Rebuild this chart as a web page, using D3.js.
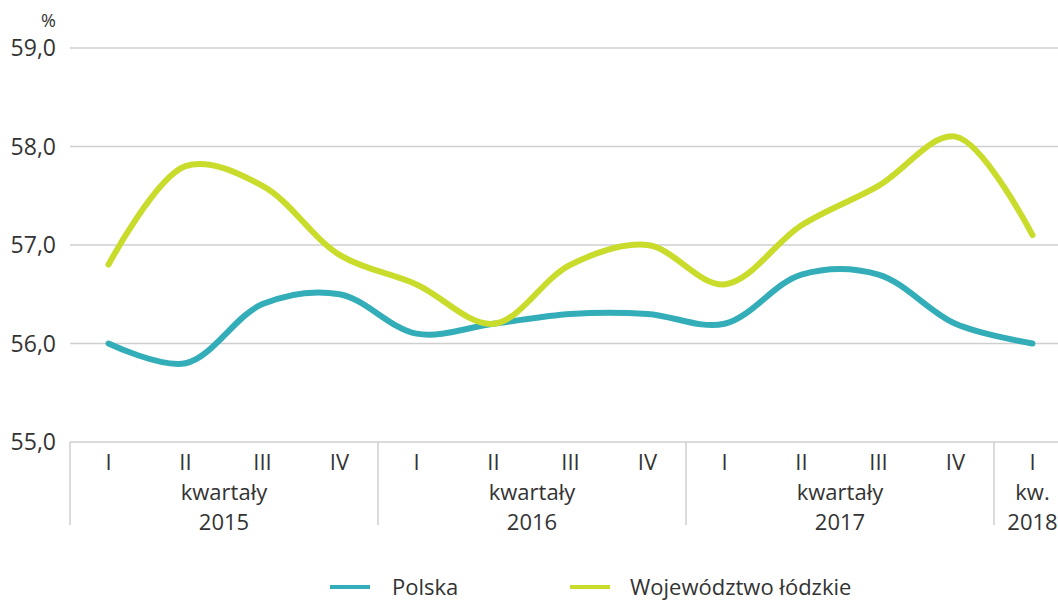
<!DOCTYPE html>
<html><head><meta charset="utf-8">
<script src="https://cdn.jsdelivr.net/npm/d3@7"></script>
<style>body{margin:0;background:#fff}svg{display:block;font-family:"Open Sans","Noto Sans",sans-serif}</style>
</head><body><svg id="c" width="1058" height="603"></svg>
<script>
const quarters = ["I","II","III","IV","I","II","III","IV","I","II","III","IV","I"];
const years = [{label:["kwartały","2015"],n:4},{label:["kwartały","2016"],n:4},{label:["kwartały","2017"],n:4},{label:["kw.","2018"],n:1}];
const polska = [56.0,55.8,56.4,56.5,56.1,56.2,56.3,56.3,56.2,56.7,56.7,56.2,56.0];
const lodzkie = [56.8,57.8,57.6,56.9,56.6,56.2,56.8,57.0,56.6,57.2,57.6,58.1,57.1];
const yTicks = [55,56,57,58,59];
const seriesNames = ["Polska","Województwo łódzkie"];
const colors = ["#33aeb8","#c9dc2c"];

(function(){
const svg = d3.select("#c");
const mL = 70, mR = 1058, mT = 48, mB = 442;
const x = d3.scaleBand().domain(d3.range(quarters.length)).range([mL,mL+77*quarters.length]).paddingInner(0).paddingOuter(0);
const y = d3.scaleLinear().domain([55,59]).range([mB,mT]);
const fmt = v => d3.format(".1f")(v).replace(".",",");

svg.append("g").selectAll("line").data(yTicks).join("line")
  .attr("x1",mL).attr("x2",mR).attr("y1",d=>y(d)).attr("y2",d=>y(d))
  .attr("stroke","#cfcfcf").attr("stroke-width",1.5);
svg.append("g").selectAll("text").data(yTicks).join("text")
  .attr("x",56).attr("y",d=>y(d)+8).attr("text-anchor","end")
  .attr("font-size",23).attr("fill","#333").text(fmt);
svg.append("text").attr("x",56).attr("y",27).attr("text-anchor","end").attr("font-size",18).attr("fill","#333").text("%");

const xa = svg.append("g");
xa.selectAll("text.q").data(quarters).join("text").attr("class","q")
  .attr("x",(d,i)=>x(i)+x.bandwidth()/2).attr("y",470).attr("text-anchor","middle")
  .attr("font-size",22).attr("fill","#333").text(d=>d);
let start = 0;
const seps = [0];
years.forEach(g=>{
  const x0 = x(start), x1 = x(start+g.n-1)+x.bandwidth();
  const cx = (x0+x1)/2;
  g.label.forEach((t,k)=>{
    xa.append("text").attr("x",cx).attr("y",500+k*30).attr("text-anchor","middle")
      .attr("font-size",22).attr("fill","#333").text(t);
  });
  start += g.n;
  if (start < quarters.length) seps.push(start);
});
xa.selectAll("line.sep").data(seps).join("line").attr("class","sep")
  .attr("x1",d=>x(d)).attr("x2",d=>x(d)).attr("y1",mB).attr("y2",525)
  .attr("stroke","#cfcfcf").attr("stroke-width",1.5);

const line = d3.line().x((d,i)=>x(i)+x.bandwidth()/2).y(d=>y(d)).curve(d3.curveCatmullRom.alpha(0.5));
[polska,lodzkie].forEach((s,k)=>{
  svg.append("path").datum(s).attr("d",line).attr("fill","none")
    .attr("stroke",colors[k]).attr("stroke-width",6).attr("stroke-linecap","round").attr("stroke-linejoin","round");
});

const leg = [{x:330,tx:392},{x:570,tx:630}];
seriesNames.forEach((n,k)=>{
  svg.append("line").attr("x1",leg[k].x).attr("x2",leg[k].x+40).attr("y1",587).attr("y2",587)
    .attr("stroke",colors[k]).attr("stroke-width",4);
  svg.append("text").attr("x",leg[k].tx).attr("y",595).attr("font-size",22).attr("fill","#333").text(n);
});
})();
</script></body></html>
